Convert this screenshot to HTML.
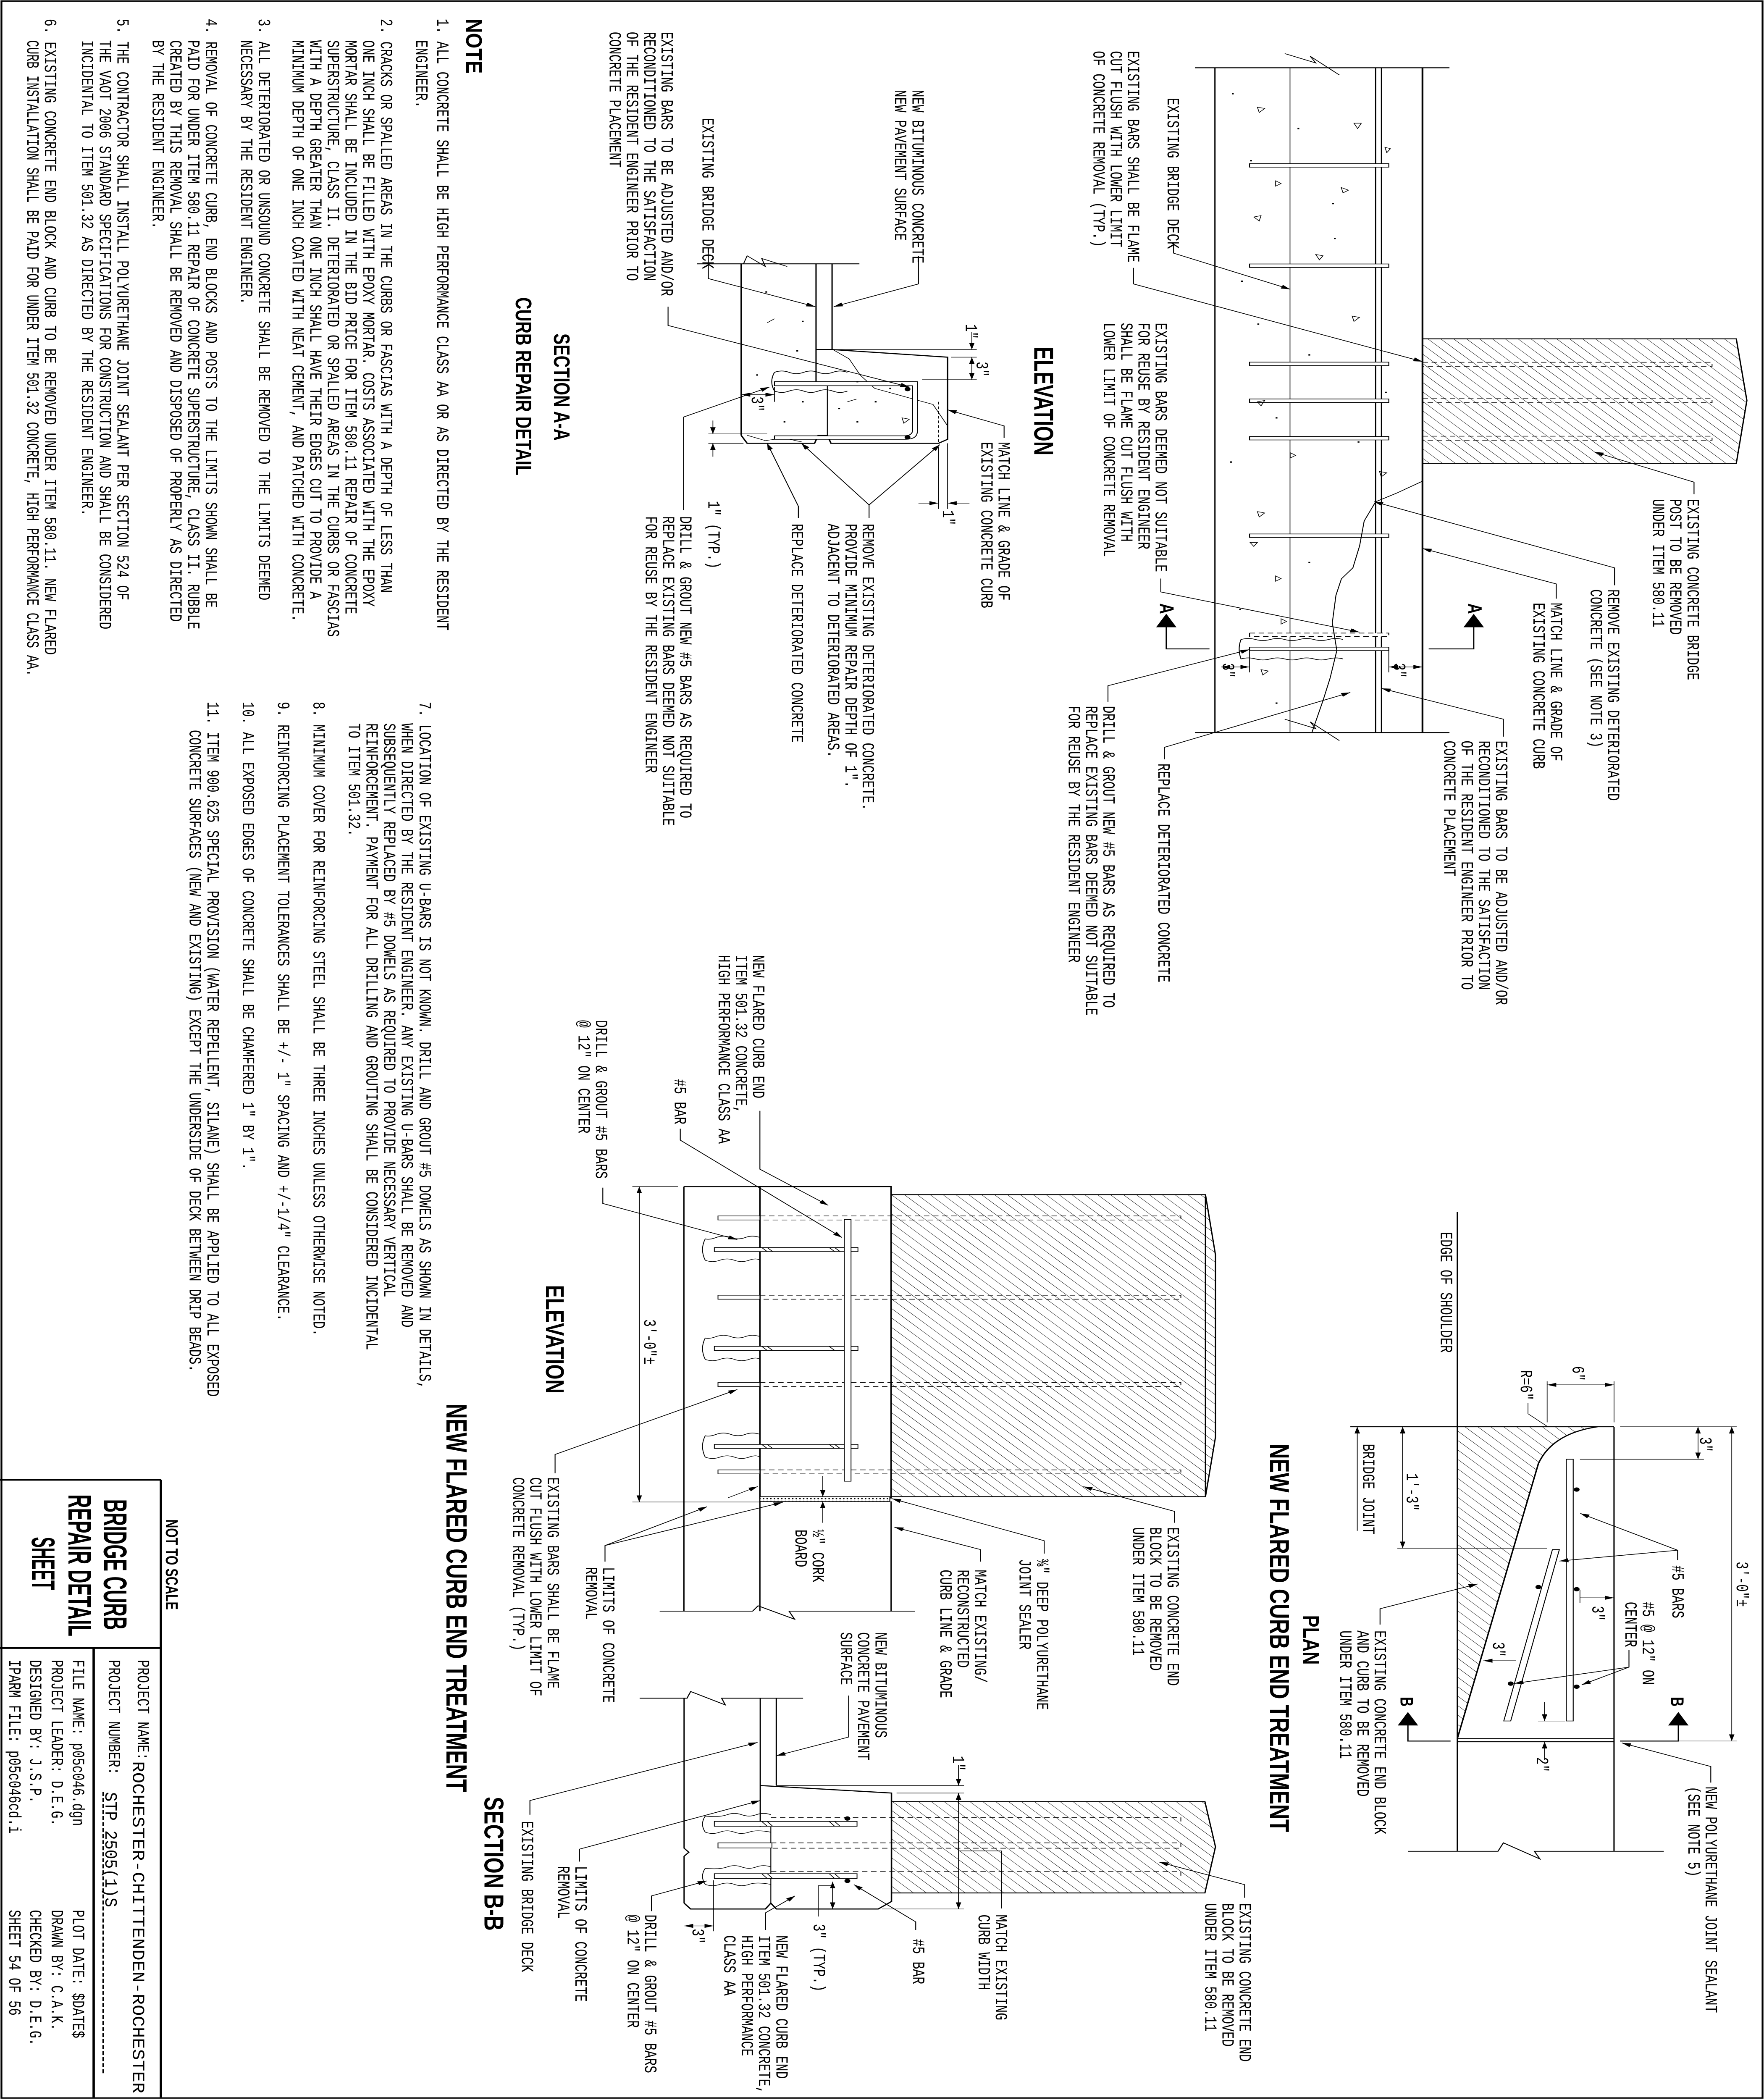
<!DOCTYPE html>
<html><head><meta charset="utf-8"><style>
html,body{margin:0;padding:0;background:#fff;width:100%;height:100%;overflow:hidden}
svg{display:block;position:fixed;left:0;top:0;width:100vw;height:100vh}
.t{font-family:"Liberation Mono",monospace;font-size:9.4px;fill:#000}
.h{font-family:"Liberation Sans",sans-serif;font-weight:bold;fill:#000}
</style></head><body>
<svg viewBox="0 0 968 1568" preserveAspectRatio="none" xmlns="http://www.w3.org/2000/svg">
<defs>
<marker id="a" viewBox="0 0 10 6" refX="10" refY="3" markerWidth="5" markerHeight="3" orient="auto" markerUnits="userSpaceOnUse"><path d="M0,0 L10,3 L0,6z" fill="#000"/></marker>
<marker id="s" viewBox="0 0 10 6" refX="0" refY="3" markerWidth="5" markerHeight="3" orient="auto" markerUnits="userSpaceOnUse"><path d="M10,0 L0,3 L10,6z" fill="#000"/></marker>
<pattern id="hh" width="5" height="5" patternUnits="userSpaceOnUse" patternTransform="rotate(-45)"><line x1="0" y1="0" x2="0" y2="5" stroke="#000" stroke-width="0.45"/></pattern>
<pattern id="dt" width="2" height="2" patternUnits="userSpaceOnUse"><rect width="2" height="2" fill="#fff"/><circle cx="1" cy="1" r="0.45" fill="#000"/></pattern>
</defs>
<rect width="968" height="1568" fill="#fff"/>
<rect x="0.8" y="0.8" width="966.4" height="1565.7" fill="none" stroke="#000" stroke-width="1"/>

<g fill="none" stroke="#000" stroke-width="0.7">
<line x1="666.7" y1="50.6" x2="666.7" y2="547"/>
<line x1="707.9" y1="50.6" x2="707.9" y2="547" stroke-width="0.4"/>
<line x1="754.9" y1="50.6" x2="754.9" y2="547"/>
<line x1="758.1" y1="50.6" x2="758.1" y2="547"/>
<line x1="780.6" y1="50.6" x2="780.6" y2="547" stroke-width="1"/>
<line x1="655.7" y1="50.6" x2="795.4" y2="50.6"/>
<line x1="655.7" y1="547" x2="795.4" y2="547"/>
<polyline points="705,40 722,47 719,42 735,56" stroke-width="0.5"/>
<polyline points="705,537 722,544 719,539 735,553" stroke-width="0.5"/>
<polygon points="780.6,253 952.8,253 958.6,299 952.8,346 780.6,346" fill="url(#hh)"/>
<g stroke-dasharray="3,2" stroke-width="0.45">
<path d="M780.6,270.5 H939.5 V273.5 H780.6"/><path d="M780.6,297.7 H939.5 V300.7 H780.6"/><path d="M780.6,325.7 H939.5 V328.7 H780.6"/>
</g>
<g fill="#fff" stroke-width="0.5">
<rect x="685.7" y="122.2" width="76.4" height="2.6"/><rect x="685.7" y="197.1" width="76.4" height="2.6"/>
<rect x="685.7" y="270.4" width="76.4" height="2.6"/><rect x="685.7" y="297.9" width="76.4" height="2.6"/>
<rect x="685.7" y="325.9" width="76.4" height="2.6"/><rect x="685.7" y="398.7" width="76.4" height="2.6"/>
<rect x="685.7" y="472.7" width="76.4" height="2.6" stroke-dasharray="3,2"/><rect x="685.7" y="483.2" width="76.4" height="2.6"/>
</g>
<path d="M681,477.5 q4,-1.5 8,0 t8,0 t8,0 t8,0 t8,0 t8,0 t8,0 M681,492 q4,-1.5 8,0 t8,0 t8,0 t8,0 t8,0 t8,0 t8,0 M681,477.5 q-2,7 0,14.5" stroke-width="0.5"/>
<polyline points="780.6,359.3 766.1,368.4 754.9,374.6 748.6,389 746.1,407.5 742.4,424 736.1,432.2 733.1,444.5 731.1,465.1 733.6,485.7 729.9,506.3 726.1,522.7 719.9,547" stroke-width="0.5"/>
<g stroke-width="0.4">
<path d="M690,80 l4,1 l-3,3z M743,92 l4,0 l-2,4z M700,135 l3,2 l-3,2z M736,140 l4,2 l-3,2z M688,162 l4,-1 l-1,4z M722,190 l4,1 l-2,3z M742,236 l4,1 l-3,3z M690,300 l4,-1 l-2,4z M708,338 l3,2 l-3,2z M757,352 l4,1 l-3,3z M690,382 l4,1 l-3,3z M686,405 l4,0 l-2,3z M700,430 l3,2 l-3,2z M692,500 l4,1 l-3,3z M703,462 l3,2 l-3,2z M760,110 l3,1 l-2,3z"/>
<path d="M676,70 h1 M712,96 h1 M686,120 h1 M732,178 h1 M681,210 h1 M718,265 h1 M675,345 h1 M700,312 h1 M745,330 h1 M718,420 h1 M680,455 h1 M742,470 h1 M700,525 h1 M690,242 h1 M731,152 h1 M760,293 h1" stroke-width="1"/>
</g>
<polyline points="663.7,484.5 640,484.5 640,468"/>
<polygon points="640,459 635,468 645,468" fill="#000"/>
<polyline points="784,484.5 808.7,484.5 808.7,468"/>
<polygon points="808.7,459 803.7,468 813.7,468" fill="#000"/>
<line x1="670" y1="498" x2="685.7" y2="498" marker-start="url(#s)" marker-end="url(#a)" stroke-width="0.4"/>
<line x1="685.7" y1="486" x2="685.7" y2="502" stroke-width="0.4"/>
<line x1="762.1" y1="498" x2="780.6" y2="498" marker-start="url(#s)" marker-end="url(#a)" stroke-width="0.4"/>
<line x1="762.1" y1="486" x2="762.1" y2="502" stroke-width="0.4"/>
<g stroke-width="0.5" marker-end="url(#a)">
<polyline points="644,181 644,189 708,216"/>
<polyline points="622,200 622,212 780.6,270"/>
<polyline points="637,432 637,442 746,472"/>
<polyline points="608,524 608,512 685.7,485"/>
<polyline points="639,567 639,558 741,517"/>
<polyline points="825,550 825,537 758.1,514"/>
<polyline points="854,447 854,436 780.6,409.5"/>
<polyline points="886,437 886,424 754,374.6"/>
<polyline points="929.6,369 929.6,360 875,337.5"/>
</g>

<line x1="406.7" y1="197" x2="406.7" y2="325"/>
<line x1="447.8" y1="197" x2="447.8" y2="285"/>
<line x1="456.6" y1="197" x2="456.6" y2="261"/>
<line x1="454" y1="285" x2="454" y2="326" stroke-width="0.5"/>
<line x1="382.5" y1="197" x2="471.6" y2="197"/>
<polyline points="408,197 410,191 420,199 418,193 432,199" stroke-width="0.5"/>
<polyline points="447.8,261 456.6,261 520,266.7 520,328 515,331 456,331 454,325 449,325 447,331 410,331 406.7,325" stroke-width="0.8"/>
<path d="M425,278 q4,-2 8,0 t8,0 t8,0 t8,0 t8,0 M425,292 q4,2 8,0 t8,0 t8,0 t8,0 t8,0 M425,278 q-3,7 0,14" stroke-width="0.5"/>
<polyline points="457,261 466,268 472,280 480,290 496,296 512,302 520,318" stroke-width="0.4"/>
<polyline points="410,325 420,329 430,327 440,330" stroke-width="0.4"/>
<line x1="515" y1="300" x2="515" y2="330" stroke-dasharray="2,1.5" stroke-width="0.4"/>
<path d="M425,285 H503.4 V322 Q503.4,328 497,328 H425 V325.4 H496 Q500.8,325.4 500.8,321 V288 H425 Z" fill="#fff" stroke-width="0.5"/>
<circle cx="498" cy="290.5" r="1.6" fill="#000" stroke="none"/>
<circle cx="498" cy="326.5" r="1.6" fill="#000" stroke="none"/>
<g stroke-width="0.4">
<path d="M420,218 h1 M440,240 h1 M415,280 h1 M437,262 h1 M470,285 h1 M488,290 h1 M440,300 h1 M460,305 h1 M480,300 h1 M470,315 h1 M430,315 h1" stroke-width="1"/>
<path d="M495,312 l4,1 l-3,3z M470,298 l-5,2 M425,238 l-4,3"/>
</g>
<g stroke-width="0.4">
<line x1="458" y1="261" x2="536" y2="261"/><line x1="522" y1="266.7" x2="536" y2="266.7"/><line x1="506" y1="283.5" x2="536" y2="283.5"/>
<line x1="533.3" y1="248" x2="533.3" y2="261" marker-end="url(#a)"/>
<line x1="533.3" y1="266.7" x2="533.3" y2="283.5" marker-start="url(#s)" marker-end="url(#a)"/>
<line x1="406.7" y1="294.7" x2="425" y2="294.7" marker-start="url(#s)" marker-end="url(#a)"/>
<line x1="425" y1="289" x2="425" y2="300"/>
<line x1="388.7" y1="324" x2="421" y2="324"/><line x1="388.7" y1="331" x2="408" y2="331"/>
<line x1="391.2" y1="314" x2="391.2" y2="324" marker-end="url(#a)"/>
<line x1="391.2" y1="341" x2="391.2" y2="331" marker-end="url(#a)"/>
<line x1="515" y1="334" x2="515" y2="380"/><line x1="520" y1="331" x2="520" y2="380"/>
<line x1="504" y1="375.7" x2="515" y2="375.7" marker-end="url(#a)"/>
<line x1="532" y1="375.7" x2="520" y2="375.7" marker-end="url(#a)"/>
</g>
<g stroke-width="0.5" marker-end="url(#a)">
<polyline points="504,191 504,212 457.5,229"/>
<polyline points="388.7,186 388.7,208 447.4,229"/>
<polyline points="366.6,229 366.6,243 499,289"/>
<polyline points="375.1,381 375.1,311.4 422.2,289"/>
<polyline points="438.1,387 438.1,378 421,331"/>
<polyline points="476.9,387 476.9,377 439.8,331"/>
<polyline points="476.9,377 515.7,332"/>
<polyline points="551,327 551,318 520,306"/>
</g>

<rect x="417" y="886" width="72" height="232.5" stroke-width="0.8"/>
<line x1="375.3" y1="886" x2="417" y2="886"/>
<line x1="347" y1="886" x2="372" y2="886" stroke-width="0.4"/>
<line x1="347" y1="1121.5" x2="417" y2="1121.5" stroke-width="0.4"/>
<line x1="375.3" y1="886" x2="375.3" y2="1203"/>
<line x1="417" y1="1118" x2="417" y2="1203"/>
<line x1="489" y1="1121" x2="489" y2="1203"/>
<polyline points="362,1203 413,1203 416,1199 436,1209 433,1203 502,1203" stroke-width="0.6"/>
<polygon points="489,892 661.5,892 667,937 667,1073 661.5,1117.5 489,1117.5" fill="url(#hh)"/>
<line x1="661.5" y1="892" x2="661.5" y2="1117.5"/>
<g stroke-width="0.45">
<g fill="#fff"><rect x="394" y="907.9" width="23" height="3"/><rect x="394" y="967.1" width="23" height="3"/><rect x="394" y="1032.3" width="23" height="3"/><rect x="394" y="1097.5" width="23" height="3"/></g>
<g stroke-dasharray="3,2"><path d="M417,907.9 H648 V910.9 H417"/><path d="M417,967.1 H648 V970.1 H417"/><path d="M417,1032.3 H648 V1035.3 H417"/><path d="M417,1097.5 H648 V1100.5 H417"/></g>
<path d="M417,924 q-4,-2 -8,0 t-8,0 t-8,0 t-6,1 q-3,8 0,16 q4,2 8,0 t8,0 t8,0 t6,0 M417,998 q-4,-2 -8,0 t-8,0 t-8,0 t-6,1 q-3,8 0,16 q4,2 8,0 t8,0 t8,0 t6,0 M417,1071 q-4,-2 -8,0 t-8,0 t-8,0 t-6,1 q-3,8 0,16 q4,2 8,0 t8,0 t8,0 t6,0"/>
<g fill="#fff"><rect x="392" y="931.5" width="78.8" height="3"/><rect x="392" y="1005.3" width="78.8" height="3"/><rect x="392" y="1078.5" width="78.8" height="3"/></g>
<rect x="463.3" y="910.5" width="3.7" height="195.5" fill="#fff"/>
<path d="M418,931.5 l3,3 M421,931.5 l3,3 M455,931.5 l3,3 M458,931.5 l3,3 M418,1005.3 l3,3 M421,1005.3 l3,3 M455,1005.3 l3,3 M418,1078.5 l3,3 M421,1078.5 l3,3 M455,1078.5 l3,3 M458,1078.5 l3,3"/>
</g>
<rect x="417" y="1117.5" width="71.3" height="3.6" fill="url(#dt)" stroke-width="0.5"/>
<line x1="350.8" y1="886" x2="350.8" y2="1121.5" marker-start="url(#s)" marker-end="url(#a)" stroke-width="0.5"/>
<g stroke-width="0.4">
<line x1="451.5" y1="1102" x2="451.5" y2="1117.5" marker-end="url(#a)"/>
<line x1="451.5" y1="1137" x2="451.5" y2="1121.1" marker-end="url(#a)"/>
<line x1="399.6" y1="1118.3" x2="415.8" y2="1109.9" marker-end="url(#a)"/>
</g>
<g stroke-width="0.5" marker-end="url(#a)">
<polyline points="417,829.4 417,873 454.5,900"/>
<polyline points="373.3,842.8 373.3,851.3 462,924"/>
<polyline points="330.8,886.8 330.8,898.6 404.6,925.6"/>
<polyline points="304.6,1100 304.6,1086 404.6,1037.5"/>
<polyline points="332,1166 332,1154 388,1125"/>
<polyline points="332,1154 429.5,1121.7"/>
<polyline points="573,1160 573,1150.4 489.5,1119"/>
<polyline points="538,1166 538,1157 490.8,1140.3"/>
<polyline points="644.5,1137 644.5,1128.5 594.5,1110"/>
<polyline points="465.7,1266 465.7,1297 426,1311"/>
</g>

<polyline points="375.4,1268 375.4,1380 378,1383 375.4,1386 375.4,1421"/>
<polyline points="351,1268 377,1268 379,1263 398,1273 396,1268 440.7,1268" stroke-width="0.6"/>
<line x1="417.2" y1="1268" x2="417.2" y2="1364"/>
<line x1="426" y1="1268" x2="426" y2="1333.2"/>
<line x1="423" y1="1364" x2="423" y2="1421" stroke-width="0.5"/>
<polyline points="417.2,1333.2 489.2,1338.8 489.2,1419.8 481.9,1425.4 426,1425.4 423,1421 420,1425.4 379,1425.4 375.4,1421" stroke-width="0.8"/>
<polygon points="489.2,1345.2 661.2,1345.2 667,1379 661.2,1413.4 489.2,1413.4" fill="url(#hh)"/>
<g stroke-width="0.45">
<g stroke-dasharray="3,2"><path d="M423,1357 H648 V1360.5"/><path d="M423,1376 H648 V1380 H423"/><path d="M423,1397.5 H648 V1401"/></g>
<path d="M423,1355 q-4,-2 -8,0 t-8,0 t-8,0 t-12,1 q-3,6 0,12 q4,2 8,0 t8,0 t8,0 t12,0 M423,1394 q-4,-2 -8,0 t-8,0 t-8,0 t-12,1 q-3,6 0,12 q4,2 8,0 t8,0 t8,0 t12,0"/>
<g fill="#fff"><rect x="392" y="1360" width="78.3" height="3.6"/><rect x="394" y="1376" width="29.6" height="3.8"/><rect x="392" y="1399" width="78.3" height="3.6"/></g>
<path d="M418,1360 l3,3.6 M421,1360 l3,3.6 M455,1360 l3,3.6 M458,1360 l3,3.6 M418,1399 l3,3.6 M421,1399 l3,3.6 M455,1399 l3,3.6 M458,1399 l3,3.6"/>
</g>
<circle cx="465" cy="1357.8" r="1.6" fill="#000" stroke="none"/>
<circle cx="465" cy="1404.4" r="1.6" fill="#000" stroke="none"/>
<g stroke-width="0.4">
<line x1="426" y1="1333.2" x2="529" y2="1333.2"/><line x1="492" y1="1338.8" x2="529" y2="1338.8"/><line x1="484" y1="1425.4" x2="529" y2="1425.4"/>
<line x1="526" y1="1318" x2="526" y2="1333.2" marker-end="url(#a)"/>
<line x1="526" y1="1338.8" x2="526" y2="1425.4" marker-start="url(#s)" marker-end="url(#a)"/>
<polyline points="526,1382 549.5,1382 549.5,1425"/>
<line x1="456.9" y1="1405" x2="456.9" y2="1425.4" marker-start="url(#s)" marker-end="url(#a)"/>
<polyline points="449,1431 449,1408 456,1408"/>
<line x1="375.4" y1="1438" x2="391.6" y2="1438" marker-start="url(#s)" marker-end="url(#a)"/>
<line x1="391.6" y1="1404" x2="391.6" y2="1442"/>
</g>
<g stroke-width="0.5" marker-end="url(#a)">
<polyline points="683,1417 683,1407.2 636.2,1390.4"/>
<polyline points="502.5,1441 502.5,1435 468.6,1407.2"/>
<polyline points="420.1,1441 420.1,1428.2 436.3,1415.6"/>
<polyline points="357.5,1427 357.5,1415.6 387.8,1404.4"/>
<polyline points="318,1390 318,1380.7 417.2,1344.4"/>
<polyline points="290.8,1355 290.8,1344.4 415.7,1301"/>
</g>

<line x1="799.7" y1="905" x2="799.7" y2="1382"/>
<line x1="885.7" y1="1065.3" x2="885.7" y2="1382"/>
<line x1="741" y1="1065.3" x2="885.7" y2="1065.3"/>
<line x1="889" y1="1065.3" x2="953" y2="1065.3" stroke-width="0.4"/>
<path d="M799.7,1065.3 H876.7 Q851.9,1070.2 844.2,1092.8 L799.7,1298.2 Z" fill="url(#hh)" stroke="none"/>
<path d="M876.7,1065.3 Q851.9,1070.2 844.2,1092.8 L799.7,1298.2" stroke-width="0.8"/>
<line x1="799.7" y1="1298.2" x2="885.7" y2="1298.2"/>
<line x1="799.7" y1="1300.5" x2="885.7" y2="1300.5"/>
<polyline points="772.6,1382.3 822,1382.3 825,1376 845,1388 842,1382.3 913,1382.3" stroke-width="0.6"/>
<rect x="859.5" y="1089.6" width="3.8" height="195.4" fill="#fff" stroke-width="0.5"/>
<polygon points="851.9,1157 855.7,1157 829,1285 825.2,1285" fill="#fff" stroke-width="0.5"/>
<g fill="#000" stroke="none">
<circle cx="865.2" cy="1112.2" r="1.6"/><circle cx="865.2" cy="1186.6" r="1.6"/><circle cx="865.2" cy="1259.4" r="1.6"/><circle cx="844.2" cy="1185" r="1.6"/><circle cx="829" cy="1257.1" r="1.6"/>
</g>
<g stroke-width="0.4">
<line x1="849" y1="1031.4" x2="849" y2="1062"/><line x1="885.7" y1="1031.4" x2="885.7" y2="1062"/>
<line x1="849" y1="1034" x2="885.7" y2="1034" marker-start="url(#s)" marker-end="url(#a)"/>
<polyline points="838.5,1047.6 838.5,1055.6 849,1065"/>
<line x1="889" y1="1300" x2="953" y2="1300"/>
<line x1="950.3" y1="1065.3" x2="950.3" y2="1300" marker-start="url(#s)" marker-end="url(#a)"/>
<line x1="867" y1="1089.6" x2="935" y2="1089.6"/>
<line x1="931.8" y1="1065.3" x2="931.8" y2="1089.6" marker-start="url(#s)" marker-end="url(#a)"/>
<line x1="766.8" y1="1156" x2="849" y2="1156"/>
<line x1="769.7" y1="1065.3" x2="769.7" y2="1156" marker-start="url(#s)" marker-end="url(#a)"/>
<line x1="744.8" y1="1143" x2="744.8" y2="1065.3" marker-end="url(#a)"/>
<line x1="867" y1="1193" x2="885.7" y2="1193" marker-end="url(#a)"/>
<line x1="867" y1="1187" x2="867" y2="1197"/>
<line x1="814" y1="1240" x2="832" y2="1240" marker-start="url(#s)"/>
<line x1="844" y1="1285" x2="859" y2="1285"/>
<line x1="847.6" y1="1271" x2="847.6" y2="1285" marker-end="url(#a)"/>
<line x1="847.6" y1="1314" x2="847.6" y2="1300.5" marker-end="url(#a)"/>
</g>
<polyline points="796,1300 772.6,1300 772.6,1288"/>
<polygon points="772.6,1279 767.6,1288 777.6,1288" fill="#000"/>
<polyline points="889,1300 921,1300 921,1288"/>
<polygon points="921,1279 916,1288 926,1288" fill="#000"/>
<g stroke-width="0.5" marker-end="url(#a)">
<polyline points="920.6,1165 920.6,1157.5 867.2,1130"/>
<polyline points="920.6,1157.5 855.7,1165.6"/>
<polyline points="893.9,1232 893.9,1244.8 868,1258"/>
<polyline points="893.9,1244.8 831,1257"/>
<polyline points="757.3,1213 757.3,1201.2 810.8,1182.7"/>
<polyline points="938.8,1331 938.8,1319 890,1301.4"/>
</g>

<g stroke-width="1.3">
<line x1="0" y1="1104.9" x2="88.3" y2="1104.9"/>
<line x1="88.3" y1="1104.9" x2="88.3" y2="1566"/>
<line x1="0" y1="1230.5" x2="88.3" y2="1230.5"/>
<line x1="51.4" y1="1230.5" x2="51.4" y2="1566"/>
</g>
<line x1="56.6" y1="1338" x2="56.6" y2="1549" stroke-width="0.8" stroke-dasharray="3,1.5"/>
</g>

<text class="t" transform="translate(640.7,73) rotate(90)">EXISTING BRIDGE DECK</text>
<text class="t" transform="translate(619,38) rotate(90)">EXISTING BARS SHALL BE FLAME</text>
<text class="t" transform="translate(609.5,38) rotate(90)">CUT FLUSH WITH LOWER LIMIT</text>
<text class="t" transform="translate(600,38) rotate(90)">OF CONCRETE REMOVAL (TYP.)</text>
<text class="t" transform="translate(634.2,241) rotate(90)">EXISTING BARS DEEMED NOT SUITABLE</text>
<text class="t" transform="translate(624.7,241) rotate(90)">FOR REUSE BY RESIDENT ENGINEER</text>
<text class="t" transform="translate(615.2,241) rotate(90)">SHALL BE FLAME CUT FLUSH WITH</text>
<text class="t" transform="translate(605.7,241) rotate(90)">LOWER LIMIT OF CONCRETE REMOVAL</text>
<text class="t" transform="translate(605.5,527) rotate(90)">DRILL &amp; GROUT NEW #5 BARS AS REQUIRED TO</text>
<text class="t" transform="translate(596,527) rotate(90)">REPLACE EXISTING BARS DEEMED NOT SUITABLE</text>
<text class="t" transform="translate(586.5,527) rotate(90)">FOR REUSE BY THE RESIDENT ENGINEER</text>
<text class="t" transform="translate(635.7,570) rotate(90)">REPLACE DETERIORATED CONCRETE</text>
<text class="t" transform="translate(821,553) rotate(90)">EXISTING BARS TO BE ADJUSTED AND/OR</text>
<text class="t" transform="translate(811.5,553) rotate(90)">RECONDITIONED TO THE SATISFACTION</text>
<text class="t" transform="translate(802,553) rotate(90)">OF THE RESIDENT ENGINEER PRIOR TO</text>
<text class="t" transform="translate(792.5,553) rotate(90)">CONCRETE PLACEMENT</text>
<text class="t" transform="translate(851,450) rotate(90)">MATCH LINE &amp; GRADE OF</text>
<text class="t" transform="translate(841.5,450) rotate(90)">EXISTING CONCRETE CURB</text>
<text class="t" transform="translate(882.4,440) rotate(90)">REMOVE EXISTING DETERIORATED</text>
<text class="t" transform="translate(872.9,440) rotate(90)">CONCRETE (SEE NOTE 3)</text>
<text class="t" transform="translate(926,372.5) rotate(90)">EXISTING CONCRETE BRIDGE</text>
<text class="t" transform="translate(916.5,372.5) rotate(90)">POST TO BE REMOVED</text>
<text class="t" transform="translate(907,372.5) rotate(90)">UNDER ITEM 580.11</text>
<text class="t" transform="translate(671,495) rotate(90)">3"</text>
<text class="t" transform="translate(765,495) rotate(90)">3"</text>
<text class="h" font-size="11" transform="translate(636.5,450.5) rotate(90)">A</text>
<text class="h" font-size="11" transform="translate(805.5,450.5) rotate(90)">A</text>
<text class="h" font-size="15" textLength="81" lengthAdjust="spacingAndGlyphs" transform="translate(567.6,259) rotate(90)">ELEVATION</text>

<text class="t" transform="translate(500.7,67) rotate(90)">NEW BITUMINOUS CONCRETE</text>
<text class="t" transform="translate(491.2,67) rotate(90)">NEW PAVEMENT SURFACE</text>
<text class="t" transform="translate(385.5,88) rotate(90)">EXISTING BRIDGE DECK</text>
<text class="t" transform="translate(363,23.7) rotate(90)">EXISTING BARS TO BE ADJUSTED AND/OR</text>
<text class="t" transform="translate(353.5,23.7) rotate(90)">RECONDITIONED TO THE SATISFACTION</text>
<text class="t" transform="translate(344,23.7) rotate(90)">OF THE RESIDENT ENGINEER PRIOR TO</text>
<text class="t" transform="translate(334.5,23.7) rotate(90)">CONCRETE PLACEMENT</text>
<text class="t" transform="translate(373.3,385.4) rotate(90)">DRILL &amp; GROUT NEW #5 BARS AS REQUIRED TO</text>
<text class="t" transform="translate(363.8,385.4) rotate(90)">REPLACE EXISTING BARS DEEMED NOT SUITABLE</text>
<text class="t" transform="translate(354.3,385.4) rotate(90)">FOR REUSE BY THE RESIDENT ENGINEER</text>
<text class="t" transform="translate(388.7,374) rotate(90)">1" (TYP.)</text>
<text class="t" transform="translate(434.5,391) rotate(90)">REPLACE DETERIORATED CONCRETE</text>
<text class="t" transform="translate(473.4,391) rotate(90)">REMOVE EXISTING DETERIORATED CONCRETE.</text>
<text class="t" transform="translate(463.9,391) rotate(90)">PROVIDE MINIMUM REPAIR DEPTH OF 1".</text>
<text class="t" transform="translate(454.4,391) rotate(90)">ADJACENT TO DETERIORATED AREAS.</text>
<text class="t" transform="translate(548,330) rotate(90)">MATCH LINE &amp; GRADE OF</text>
<text class="t" transform="translate(538.5,330) rotate(90)">EXISTING CONCRETE CURB</text>
<text class="t" transform="translate(530,242) rotate(90)">1"</text>
<text class="t" transform="translate(536,270) rotate(90)">3"</text>
<text class="t" transform="translate(412.5,296) rotate(90)">3"</text>
<text class="t" transform="translate(517.4,381) rotate(90)">1"</text>
<text class="h" font-size="12.5" textLength="80" lengthAdjust="spacingAndGlyphs" transform="translate(304,249) rotate(90)">SECTION  A-A</text>
<text class="h" font-size="12.5" textLength="133" lengthAdjust="spacingAndGlyphs" transform="translate(283,222) rotate(90)">CURB  REPAIR  DETAIL</text>

<text class="t" transform="translate(413.3,713) rotate(90)">NEW FLARED CURB END</text>
<text class="t" transform="translate(403.8,713) rotate(90)">ITEM 501.32 CONCRETE,</text>
<text class="t" transform="translate(394.3,713) rotate(90)">HIGH PERFORMANCE CLASS AA</text>
<text class="t" transform="translate(370.3,805.7) rotate(90)">#5 BAR</text>
<text class="t" transform="translate(327,761.7) rotate(90)">DRILL &amp; GROUT #5 BARS</text>
<text class="t" transform="translate(317.5,761.7) rotate(90)">@ 12" ON CENTER</text>
<text class="t" transform="translate(353.5,985) rotate(90)">3'-0"±</text>
<text class="t" transform="translate(300.5,1103) rotate(90)">EXISTING BARS SHALL BE FLAME</text>
<text class="t" transform="translate(291,1103) rotate(90)">CUT FLUSH WITH LOWER LIMIT OF</text>
<text class="t" transform="translate(281.5,1103) rotate(90)">CONCRETE REMOVAL (TYP.)</text>
<text class="t" transform="translate(331,1170) rotate(90)">LIMITS OF CONCRETE</text>
<text class="t" transform="translate(321.5,1170) rotate(90)">REMOVAL</text>
<text class="t" transform="translate(446,1142) rotate(90)">½" CORK</text>
<text class="t" transform="translate(436.5,1142) rotate(90)">BOARD</text>
<text class="t" transform="translate(569,1164) rotate(90)">⅜" DEEP POLYURETHANE</text>
<text class="t" transform="translate(559.5,1164) rotate(90)">JOINT SEALER</text>
<text class="t" transform="translate(535,1172) rotate(90)">MATCH EXISTING/</text>
<text class="t" transform="translate(525.5,1172) rotate(90)">RECONSTRUCTED</text>
<text class="t" transform="translate(516,1172) rotate(90)">CURB LINE &amp; GRADE</text>
<text class="t" transform="translate(640.7,1140.3) rotate(90)">EXISTING CONCRETE END</text>
<text class="t" transform="translate(631.2,1140.3) rotate(90)">BLOCK TO BE REMOVED</text>
<text class="t" transform="translate(621.7,1140.3) rotate(90)">UNDER ITEM 580.11</text>
<text class="t" transform="translate(480.4,1218.7) rotate(90)">NEW BITUMINOUS</text>
<text class="t" transform="translate(470.9,1218.7) rotate(90)">CONCRETE PAVEMENT</text>
<text class="t" transform="translate(461.4,1218.7) rotate(90)">SURFACE</text>
<text class="h" font-size="14" textLength="81" lengthAdjust="spacingAndGlyphs" transform="translate(299.6,959.5) rotate(90)">ELEVATION</text>
<text class="h" font-size="16" textLength="290" lengthAdjust="spacingAndGlyphs" transform="translate(245,1048) rotate(90)">NEW  FLARED  CURB  END  TREATMENT</text>

<text class="t" transform="translate(680.3,1421) rotate(90)">EXISTING CONCRETE END</text>
<text class="t" transform="translate(670.8,1421) rotate(90)">BLOCK TO BE REMOVED</text>
<text class="t" transform="translate(661.3,1421) rotate(90)">UNDER ITEM 580.11</text>
<text class="t" transform="translate(546.5,1429.5) rotate(90)">MATCH EXISTING</text>
<text class="t" transform="translate(537,1429.5) rotate(90)">CURB WIDTH</text>
<text class="t" transform="translate(523,1311) rotate(90)">1"</text>
<text class="t" transform="translate(501,1447.7) rotate(90)">#5 BAR</text>
<text class="t" transform="translate(446.6,1436.5) rotate(90)">3" (TYP.)</text>
<text class="t" transform="translate(426,1445) rotate(90)">NEW FLARED CURB END</text>
<text class="t" transform="translate(416.5,1445) rotate(90)">ITEM 501.32 CONCRETE,</text>
<text class="t" transform="translate(407,1445) rotate(90)">HIGH PERFORMANCE</text>
<text class="t" transform="translate(397.5,1445) rotate(90)">CLASS AA</text>
<text class="t" transform="translate(354,1429.5) rotate(90)">DRILL &amp; GROUT #5 BARS</text>
<text class="t" transform="translate(344.5,1429.5) rotate(90)">@ 12" ON CENTER</text>
<text class="t" transform="translate(380,1440) rotate(90)">3"</text>
<text class="t" transform="translate(315.8,1393.2) rotate(90)">LIMITS OF CONCRETE</text>
<text class="t" transform="translate(306.3,1393.2) rotate(90)">REMOVAL</text>
<text class="t" transform="translate(286.4,1359.7) rotate(90)">EXISTING BRIDGE DECK</text>
<text class="h" font-size="15" textLength="100" lengthAdjust="spacingAndGlyphs" transform="translate(265.8,1341.6) rotate(90)">SECTION  B-B</text>

<text class="t" transform="translate(790.7,919.8) rotate(90)">EDGE OF SHOULDER</text>
<text class="t" transform="translate(834.6,1023) rotate(90)">R=6"</text>
<text class="t" transform="translate(863,1020) rotate(90)">6"</text>
<text class="t" transform="translate(933,1073) rotate(90)">3"</text>
<text class="t" transform="translate(953,1166) rotate(90)">3'-0"±</text>
<text class="t" transform="translate(772,1100) rotate(90)">1'-3"</text>
<text class="t" transform="translate(748,1078) rotate(90)">BRIDGE JOINT</text>
<text class="t" transform="translate(917.8,1168.8) rotate(90)">#5 BARS</text>
<text class="t" transform="translate(901.5,1196) rotate(90)">#5 @ 12" ON</text>
<text class="t" transform="translate(892,1196) rotate(90)">CENTER</text>
<text class="t" transform="translate(873.8,1199) rotate(90)">3"</text>
<text class="t" transform="translate(819.4,1226) rotate(90)">3"</text>
<text class="t" transform="translate(843.3,1312) rotate(90)">2"</text>
<text class="t" transform="translate(754.4,1217.4) rotate(90)">EXISTING CONCRETE END BLOCK</text>
<text class="t" transform="translate(744.9,1217.4) rotate(90)">AND CURB TO BE REMOVED</text>
<text class="t" transform="translate(735.4,1217.4) rotate(90)">UNDER ITEM 580.11</text>
<text class="t" transform="translate(936,1333.8) rotate(90)">NEW POLYURETHANE JOINT SEALANT</text>
<text class="t" transform="translate(926.5,1333.8) rotate(90)">(SEE NOTE 5)</text>
<text class="h" font-size="10" transform="translate(768.5,1267) rotate(90)">B</text>
<text class="h" font-size="10" transform="translate(917,1267) rotate(90)">B</text>
<text class="h" font-size="12.5" textLength="37" lengthAdjust="spacingAndGlyphs" transform="translate(715.2,1206) rotate(90)">PLAN</text>
<text class="h" font-size="15" textLength="290" lengthAdjust="spacingAndGlyphs" transform="translate(697,1078) rotate(90)">NEW  FLARED  CURB  END  TREATMENT</text>

<text class="h" font-size="12.5" textLength="41" lengthAdjust="spacingAndGlyphs" transform="translate(255.8,14) rotate(90)">NOTE</text>
<g class="t">
<text transform="translate(239.9,14) rotate(90)">1. ALL CONCRETE SHALL BE HIGH PERFORMANCE CLASS AA OR AS DIRECTED BY THE RESIDENT</text>
<text transform="translate(228.4,30) rotate(90)">ENGINEER.</text>
<text transform="translate(209,14) rotate(90)">2. CRACKS OR SPALLED AREAS IN THE CURBS OR FASCIAS WITH A DEPTH OF LESS THAN</text>
<text transform="translate(199.3,30) rotate(90)">ONE INCH SHALL BE FILLED WITH EPOXY MORTAR. COSTS ASSOCIATED WITH THE EPOXY</text>
<text transform="translate(189.6,30) rotate(90)">MORTAR SHALL BE INCLUDED IN THE BID PRICE FOR ITEM 580.11 REPAIR OF CONCRETE</text>
<text transform="translate(179.9,30) rotate(90)">SUPERSTRUCTURE, CLASS II. DETERIORATED OR SPALLED AREAS IN THE CURBS OR FASCIAS</text>
<text transform="translate(170.2,30) rotate(90)">WITH A DEPTH GREATER THAN ONE INCH SHALL HAVE THEIR EDGES CUT TO PROVIDE A</text>
<text transform="translate(160.5,30) rotate(90)">MINIMUM DEPTH OF ONE INCH COATED WITH NEAT CEMENT, AND PATCHED WITH CONCRETE.</text>
<text transform="translate(142,14) rotate(90)">3. ALL DETERIORATED OR UNSOUND CONCRETE SHALL BE REMOVED TO THE LIMITS DEEMED</text>
<text transform="translate(132.3,30) rotate(90)">NECESSARY BY THE RESIDENT ENGINEER.</text>
<text transform="translate(112.9,14) rotate(90)">4. REMOVAL OF CONCRETE CURB, END BLOCKS AND POSTS TO THE LIMITS SHOWN SHALL BE</text>
<text transform="translate(103.2,30) rotate(90)">PAID FOR UNDER ITEM 580.11 REPAIR OF CONCRETE SUPERSTRUCTURE, CLASS II. RUBBLE</text>
<text transform="translate(93.5,30) rotate(90)">CREATED BY THIS REMOVAL SHALL BE REMOVED AND DISPOSED OF PROPERLY AS DIRECTED</text>
<text transform="translate(83.8,30) rotate(90)">BY THE RESIDENT ENGINEER.</text>
<text transform="translate(64.4,14) rotate(90)">5. THE CONTRACTOR SHALL INSTALL POLYURETHANE JOINT SEALANT PER SECTION 524 OF</text>
<text transform="translate(54.7,30) rotate(90)">THE VAOT 2006 STANDARD SPECIFICATIONS FOR CONSTRUCTION AND SHALL BE CONSIDERED</text>
<text transform="translate(45,30) rotate(90)">INCIDENTAL TO ITEM 501.32  AS DIRECTED BY THE RESIDENT ENGINEER.</text>
<text transform="translate(24.7,14) rotate(90)" textLength="475" lengthAdjust="spacingAndGlyphs">6. EXISTING CONCRETE END BLOCK AND CURB TO BE REMOVED UNDER ITEM 580.11. NEW FLARED</text>
<text transform="translate(15,30) rotate(90)" textLength="475" lengthAdjust="spacingAndGlyphs">CURB INSTALLATION SHALL BE PAID FOR UNDER ITEM 501.32 CONCRETE, HIGH PERFORMANCE CLASS AA.</text>
<text transform="translate(230.2,524) rotate(90)">7. LOCATION OF EXISTING U-BARS IS NOT KNOWN. DRILL AND GROUT #5 DOWELS AS SHOWN IN DETAILS,</text>
<text transform="translate(220.5,540) rotate(90)">WHEN DIRECTED BY THE RESIDENT ENGINEER. ANY EXISTING U-BARS SHALL BE REMOVED AND</text>
<text transform="translate(210.8,540) rotate(90)">SUBSEQUENTLY REPLACED BY #5 DOWELS AS REQUIRED TO PROVIDE NECESSARY VERTICAL</text>
<text transform="translate(201.1,540) rotate(90)">REINFORCEMENT. PAYMENT FOR ALL DRILLING AND GROUTING SHALL BE CONSIDERED INCIDENTAL</text>
<text transform="translate(191.4,540) rotate(90)">TO ITEM 501.32.</text>
<text transform="translate(172,524) rotate(90)">8. MINIMUM COVER FOR REINFORCING STEEL SHALL BE THREE INCHES UNLESS OTHERWISE NOTED.</text>
<text transform="translate(152.6,524) rotate(90)">9. REINFORCING PLACEMENT TOLERANCES SHALL BE +/- 1" SPACING AND +/-1/4" CLEARANCE.</text>
<text transform="translate(133.2,524) rotate(90)">10. ALL EXPOSED EDGES OF CONCRETE SHALL BE CHAMFERED 1" BY 1".</text>
<text transform="translate(113.8,524) rotate(90)">11. ITEM 900.625 SPECIAL PROVISION (WATER REPELLENT, SILANE) SHALL BE APPLIED TO ALL EXPOSED</text>
<text transform="translate(104.1,545) rotate(90)">CONCRETE SURFACES (NEW AND EXISTING) EXCEPT THE UNDERSIDE OF DECK BETWEEN DRIP BEADS.</text>
</g>

<text class="h" font-size="9.5" textLength="67.6" lengthAdjust="spacingAndGlyphs" transform="translate(91,1134.4) rotate(90)">NOT TO SCALE</text>
<text class="h" font-size="18" textLength="97.6" lengthAdjust="spacingAndGlyphs" transform="translate(57,1119.4) rotate(90)">BRIDGE CURB</text>
<text class="h" font-size="18" textLength="106" lengthAdjust="spacingAndGlyphs" transform="translate(37.6,1115.8) rotate(90)">REPAIR DETAIL</text>
<text class="h" font-size="18" textLength="39.7" lengthAdjust="spacingAndGlyphs" transform="translate(17.5,1147.6) rotate(90)">SHEET</text>
<text class="t" transform="translate(75.6,1239.3) rotate(90)" textLength="75" lengthAdjust="spacingAndGlyphs">PROJECT NAME:</text>
<text class="t" font-size="14" transform="translate(73,1315) rotate(90)" textLength="248" lengthAdjust="spacingAndGlyphs">ROCHESTER-CHITTENDEN-ROCHESTER</text>
<text class="t" transform="translate(59.7,1239.3) rotate(90)" textLength="86" lengthAdjust="spacingAndGlyphs">PROJECT NUMBER:</text>
<text class="t" font-size="12.6" transform="translate(57.8,1338) rotate(90)" textLength="86" lengthAdjust="spacingAndGlyphs">STP 2505(1)S</text>
<text class="t" transform="translate(40,1239.3) rotate(90)">FILE NAME: p05c046.dgn</text>
<text class="t" transform="translate(28.3,1239.3) rotate(90)">PROJECT LEADER: D.E.G.</text>
<text class="t" transform="translate(16.5,1239.3) rotate(90)">DESIGNED BY:   J.S.P.</text>
<text class="t" transform="translate(5.1,1239.3) rotate(90)">IPARM FILE: p05c046cd.i</text>
<text class="t" transform="translate(40,1426) rotate(90)">PLOT DATE: $DATE$</text>
<text class="t" transform="translate(28.3,1426) rotate(90)">DRAWN BY:  C.A.K.</text>
<text class="t" transform="translate(16.5,1426) rotate(90)">CHECKED BY: D.E.G.</text>
<text class="t" transform="translate(5.1,1426) rotate(90)">SHEET 54 OF 56</text>
</svg>
</body></html>
